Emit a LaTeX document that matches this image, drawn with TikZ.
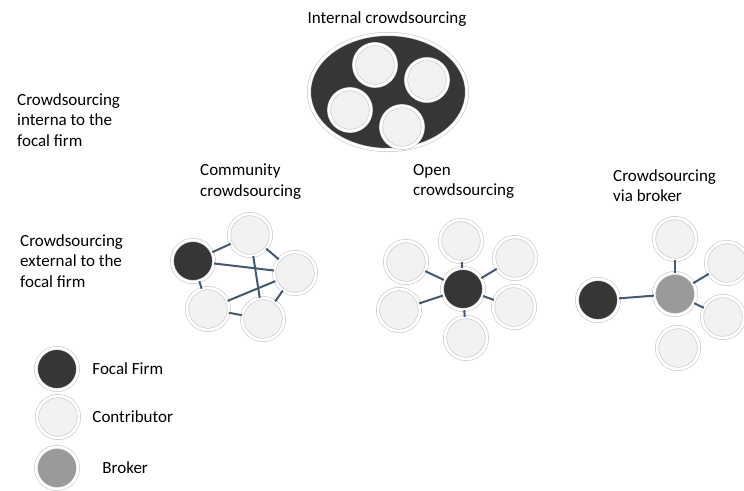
\documentclass[tikz,border=0pt]{standalone}
\usepackage{fontspec}
\setmainfont{Carlito}
\usetikzlibrary{shapes.geometric,shadows,positioning}

\definecolor{focalfill}{HTML}{363636}
\definecolor{brokerfill}{HTML}{9A9A9A}
\definecolor{contribfill}{HTML}{F2F2F2}
\definecolor{linkblue}{HTML}{44596F}

\tikzset{
  disc/.style={circle, minimum size=42pt, inner sep=0pt, draw=gray!50, line width=0.5pt,
    double=white, double distance=2.8pt,
    drop shadow={shadow xshift=0.6pt, shadow yshift=-1.2pt, opacity=0.35}},
  contrib/.style={disc, fill=contribfill},
  focal/.style={disc, fill=focalfill},
  broker/.style={disc, fill=brokerfill},
  link/.style={draw=linkblue, line width=2pt},
  lbl/.style={align=left, inner sep=0pt, font=\fontsize{17}{20.5}\selectfont}
}

\begin{document}
\begin{tikzpicture}[x=1pt, y=-1pt]
    \useasboundingbox (0,0) rectangle (744,490);

    % Side texts
    \node [lbl, anchor=north west]  (tin)   at (17,93)   {Crowdsourcing\\interna to the\\focal firm};
    \node [lbl, anchor=north west]  (tout)  at (20,234)  {Crowdsourcing\\external to the\\focal firm};

    % Internal crowdsourcing {i1, i2, i3, i4}
    \node [lbl]                     (tint)  at (387,19)  {Internal crowdsourcing};
    \node [ellipse, minimum width=158pt, minimum height=116pt, fill=focalfill, draw=gray!50,
           line width=0.5pt, double=white, double distance=3pt,
           drop shadow={shadow xshift=0.6pt, shadow yshift=-1.2pt, opacity=0.35}]
                                    (intbox) at (388,92) {};
    \node [contrib]                 (i1)    at (375,65)  {};
    \node [contrib]                 (i2)    at (427,80)  {};
    \node [contrib]                 (i3)    at (350,110) {};
    \node [contrib]                 (i4)    at (402,127) {};

    % Community crowdsourcing {cf, c1, c2, c3, c4}
    \node [lbl, anchor=north west]  (tcom)  at (200,164) {Community\\crowdsourcing};
    \node [focal]                   (cf)    at (193,261) {};
    \node [contrib]                 (c1)    at (250,235) {};
    \node [contrib]                 (c2)    at (295,273) {};
    \node [contrib]                 (c3)    at (208,309) {};
    \node [contrib]                 (c4)    at (263,319) {};

    % Open crowdsourcing {of, o1, ..., o6}
    \node [lbl, anchor=north west]  (topen) at (413,164) {Open\\crowdsourcing};
    \node [focal]                   (of)    at (463,289) {};
    \node [contrib]                 (o1)    at (461,241) {};
    \node [contrib]                 (o2)    at (515,258) {};
    \node [contrib]                 (o3)    at (514,307) {};
    \node [contrib]                 (o4)    at (466,338) {};
    \node [contrib]                 (o5)    at (399,310) {};
    \node [contrib]                 (o6)    at (406,262) {};

    % Crowdsourcing via broker {bf, bb, b1, b2, b3, b4}
    \node [lbl, anchor=north west]  (tbro)  at (613,169) {Crowdsourcing\\via broker};
    \node [focal]                   (bf)    at (598,300) {};
    \node [broker]                  (bb)    at (675,294) {};
    \node [contrib]                 (b1)    at (675,239) {};
    \node [contrib]                 (b2)    at (727,263) {};
    \node [contrib]                 (b3)    at (723,317) {};
    \node [contrib]                 (b4)    at (678,348) {};

    % Legend
    \node [focal]                   (lfocal) at (57,369) {};
    \node [contrib]                 (lcon)   at (58,417) {};
    \node [broker]                  (lbro)   at (57,468) {};
    \node [lbl, right=14pt of lfocal]        (tfocal) {Focal Firm};
    \node [lbl, right=13pt of lcon]          (tcon)   {Contributor};
    \node [lbl, right=24pt of lbro]          (tlbro)  {Broker};

    % Paths
    \path [link] (cf) edge (c1);
    \path [link] (cf) edge (c2);
    \path [link] (cf) edge (c3);
    \path [link] (c1) edge (c2);
    \path [link] (c1) edge (c4);
    \path [link] (c3) edge (c2);
    \path [link] (c3) edge (c4);
    \path [link] (c2) edge (c4);

    \foreach \n in {o1,o2,o3,o4,o5,o6}
        \path [link] (of) edge (\n);

    \path [link] (bf) edge (bb);
    \path [link] (bb) edge (b1);
    \path [link] (bb) edge (b2);
    \path [link] (bb) edge (b3);

\end{tikzpicture}
\end{document}
